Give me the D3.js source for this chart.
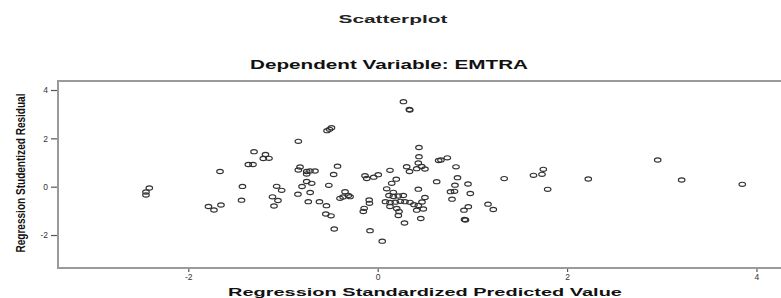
<!DOCTYPE html>
<html>
<head>
<meta charset="utf-8">
<script src="https://cdn.jsdelivr.net/npm/d3@7"></script>
<style>
  body { margin: 0; background: white; }
  text { font-family: Arial, "Liberation Sans", sans-serif; }
</style>
</head>
<body>
<svg id="my-svg"></svg>
<script>

// Regression Standardized Predicted Value
const predicted = [
  -2.447, -2.447, -2.412, -1.665, -1.787, -1.729, -1.655, -1.428, -1.438, -1.366,
  -1.317, -1.306, -1.185, -1.208, -1.148, -0.838, -0.535, -0.509, -0.488, 0.272,
  0.334, 0.339, -0.820, -0.838, -0.750, -0.715, -0.662, -0.750, -0.424, -0.465,
  -0.750, -0.697, -1.067, -1.014, -0.799, -0.516, -0.842, -0.713, -1.111, -1.053,
  -1.095, -0.733, -0.615, -0.541, -0.548, -0.493, -0.459, -0.345, -0.310, -0.366,
  -0.292, -0.398, -0.134, -0.116, -0.042, 0.006, 0.130, -0.090, -0.087, -0.143,
  -0.152, -0.081, 0.048, 0.095, 0.148, 0.196, 0.165, 0.119, 0.165, 0.218,
  0.270, 0.082, 0.130, 0.186, 0.239, 0.288, 0.130, 0.201, 0.225, 0.218,
  0.283, 0.306, 0.336, 0.412, 0.429, 0.436, 0.436, 0.465, 0.499, 0.429,
  0.499, 0.468, 0.383, 0.429, 0.412, 0.482, 0.341, 0.455, 0.644, 0.668,
  0.735, 0.827, 0.843, 0.623, 0.816, 0.954, 0.769, 0.811, 0.978, 0.785,
  0.957, 0.911, 0.917, 0.927, 1.165, 1.221, 1.336, 1.645, 1.735, 1.749,
  1.795, 2.224, 2.957, 3.210, 3.850
];

// Regression Studentized Residual
const residual = [
  -0.343, -0.219, -0.054, 0.629, -0.819, -0.964, -0.757, 0.010, -0.559, 0.918,
  0.918, 1.448, 1.332, 1.167, 1.175, 1.878, 2.317, 2.375, 2.441, 3.517,
  3.194, 3.173, 0.815, 0.691, 0.629, 0.650, 0.650, 0.525, 0.848, 0.505,
  0.215, 0.141, 0.017, -0.149, 0.008, 0.058, -0.310, -0.240, -0.418, -0.571,
  -0.799, -0.621, -0.621, -0.786, -1.130, -1.204, -1.750, -0.207, -0.364, -0.426,
  -0.414, -0.480, 0.455, 0.339, 0.393, 0.496, 0.679, -0.550, -0.687, -0.894,
  -1.026, -1.820, -2.255, -0.087, 0.141, 0.310, -0.232, -0.364, -0.405, -0.385,
  -0.364, -0.621, -0.654, -0.641, -0.604, -0.621, -0.819, -0.902, -1.026, -1.192,
  -1.502, 0.827, 0.629, 0.745, 0.981, 1.241, 1.622, 0.836, 0.732, -0.103,
  -0.447, -0.633, -0.745, -0.778, -0.972, -0.923, -0.645, -1.316, 1.084, 1.105,
  1.196, 0.823, 0.372, 0.207, 0.062, 0.112, -0.207, -0.190, -0.281, -0.517,
  -0.827, -0.972, -1.357, -1.378, -0.724, -0.943, 0.335, 0.472, 0.513, 0.720,
  -0.108, 0.319, 1.105, 0.277, 0.099
];

const xTicks = [-2, 0, 2, 4];
const yTicks = [-2, 0, 2, 4];

const data = predicted.map((p, i) => ({ x: p, y: residual[i] }));

const width = 781;
const height = 298;

let svg = d3.select("#my-svg")
    .attr("width", width)
    .attr("height", height);

const plotLeft = 58, plotRight = 781, plotTop = 81, plotBottom = 268;

var x = d3.scaleLinear()
    .domain([-3.376, 4.259])
    .range([plotLeft, plotRight]);

var y = d3.scaleLinear()
    .domain([-3.364, 4.373])
    .range([plotBottom, plotTop]);

// titles
svg.append("text")
    .attr("x", 393)
    .attr("y", 23)
    .attr("text-anchor", "middle")
    .attr("textLength", 109)
    .attr("lengthAdjust", "spacingAndGlyphs")
    .style("font-size", "11.5px")
    .style("font-weight", "bold")
    .style("fill", "#222")
    .text("Scatterplot");

svg.append("text")
    .attr("x", 389)
    .attr("y", 69)
    .attr("text-anchor", "middle")
    .attr("textLength", 278)
    .attr("lengthAdjust", "spacingAndGlyphs")
    .style("font-size", "12.5px")
    .style("font-weight", "bold")
    .style("fill", "#111")
    .text("Dependent Variable: EMTRA");

// axes
const xAxis = svg.append("g")
    .attr("transform", `translate(0,${plotBottom})`)
    .call(d3.axisBottom(x).tickValues(xTicks).tickSize(4).tickSizeOuter(0).tickPadding(2)
        .tickFormat(d => String(d)));

const yAxis = svg.append("g")
    .attr("transform", `translate(${plotLeft},0)`)
    .call(d3.axisLeft(y).tickValues(yTicks).tickSize(7).tickSizeOuter(0).tickPadding(3)
        .tickFormat(d => String(d)));

[xAxis, yAxis].forEach(a => {
    a.select(".domain").remove();
    a.selectAll(".tick line").attr("stroke", "#555").attr("stroke-width", 1.2);
    a.selectAll(".tick text")
        .style("font-size", "8.5px")
        .style("font-family", "Arial, 'Liberation Sans', sans-serif")
        .style("fill", "#333");
});

// frame (right side is cut off in the picture)
svg.append("path")
    .attr("d", `M${plotRight},${plotTop}H${plotLeft}V${plotBottom}H${plotRight}`)
    .attr("fill", "none")
    .attr("stroke", "#9a9a9a")
    .attr("stroke-width", 2);

// points
svg.append("g")
    .selectAll("ellipse")
    .data(data)
    .join("ellipse")
        .attr("cx", d => x(d.x))
        .attr("cy", d => y(d.y))
        .attr("rx", 3.3)
        .attr("ry", 2.1)
        .attr("fill", "none")
        .attr("stroke", "#333")
        .attr("stroke-width", 1.1);

// axis titles
svg.append("text")
    .attr("x", 425)
    .attr("y", 296)
    .attr("text-anchor", "middle")
    .attr("textLength", 394)
    .attr("lengthAdjust", "spacingAndGlyphs")
    .style("font-size", "11.5px")
    .style("font-weight", "bold")
    .style("fill", "#111")
    .text("Regression Standardized Predicted Value");

svg.append("text")
    .attr("transform", "translate(25,173) rotate(-90)")
    .attr("text-anchor", "middle")
    .attr("textLength", 159)
    .attr("lengthAdjust", "spacingAndGlyphs")
    .style("font-size", "12.5px")
    .style("font-weight", "bold")
    .style("fill", "#111")
    .text("Regression Studentized Residual");

</script>
</body>
</html>
